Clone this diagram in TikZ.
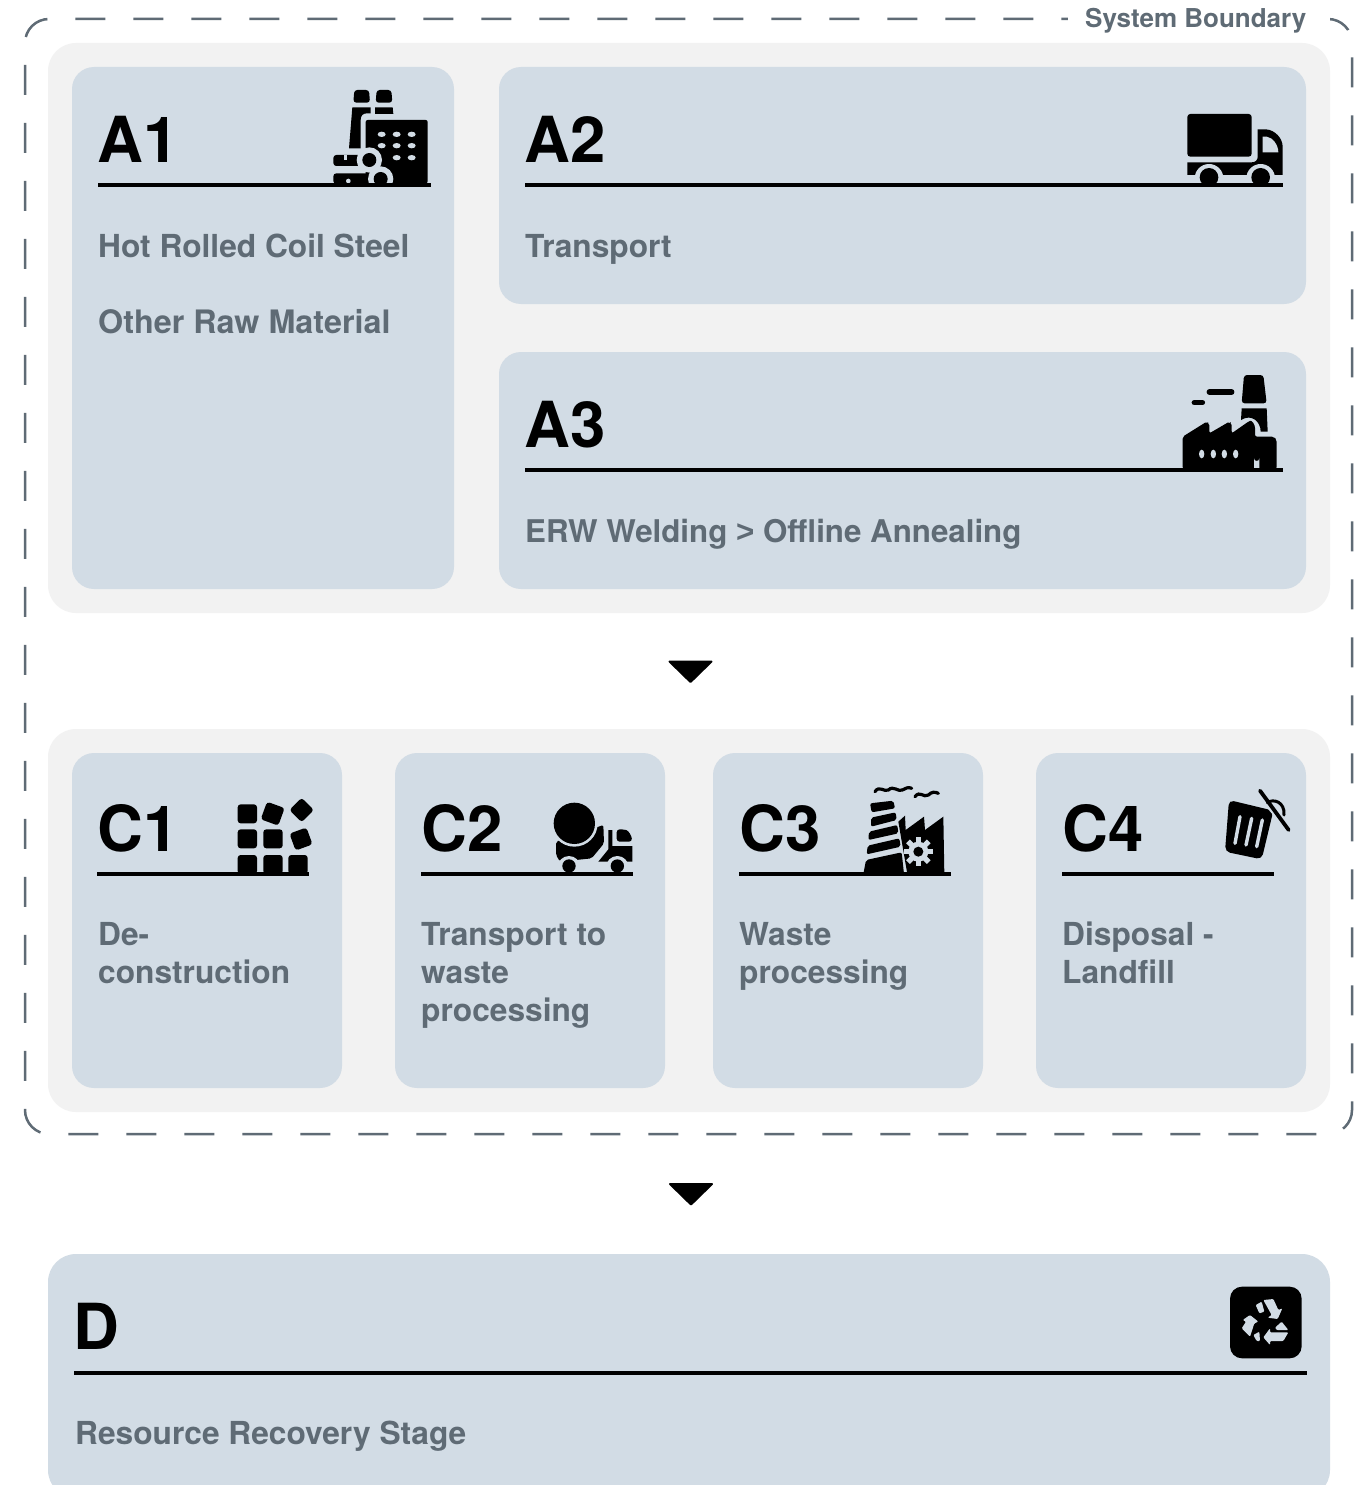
\documentclass[tikz,border=0pt]{standalone}
\usepackage{xcolor}
\usepackage{fontspec}
\setmainfont{TeX Gyre Heros}
\newfontfamily\gtfont{Liberation Sans}
\definecolor{panel}{HTML}{D2DCE5}
\definecolor{outer}{HTML}{F2F2F2}
\definecolor{slate}{HTML}{5F6B75}
\usetikzlibrary{positioning}

\begin{document}
\begin{tikzpicture}[
    x=1pt, y=-1pt,
    group/.style={rectangle, fill=outer, rounded corners=28pt, inner sep=0pt, outer sep=0pt, anchor=north west},
    card/.style={rectangle, fill=panel, rounded corners=22pt, inner sep=0pt, outer sep=0pt, anchor=north west},
    title/.style={inner sep=0pt, anchor=base west, font=\fontsize{63.5}{64}\selectfont\bfseries},
    body/.style={inner sep=0pt, anchor=base west, align=left, text=slate, font=\fontsize{31.7}{38}\selectfont\bfseries},
    rule/.style={line width=3.5pt, black},
    flowtip/.style={fill=black, draw=black, line width=2pt, line join=round},
    icon/.style 2 args={shift={(#1,#2)}, scale=1/3},
    ink/.style={fill=black},
    gap/.style={fill=panel}
]
\clip (0,0) rectangle (1358,1485);
\fill[white] (0,0) rectangle (1358,1485);

\draw[slate, line width=2.5pt, rounded corners=24pt, dash pattern=on 30pt off 28pt]
    (1322,19) -- (1352,19) -- (1352,1134) -- (25,1134) -- (25,19) -- (1322,19);
\node[inner sep=0pt, fill=white, text=slate, anchor=base west, font=\fontsize{26}{30}\selectfont\bfseries] (boundary) at (1068,28) {\hspace*{17pt}System Boundary\hspace*{24pt}};

\node[group, minimum width=1282pt, minimum height=570pt] (upper) at (48,43) {};
\node[group, minimum width=1282pt, minimum height=383pt] (lower) at (48,729) {};

\node[card, minimum width=382pt, minimum height=522pt] (a1) at (72,67) {};
\node[card, minimum width=807pt, minimum height=237pt] (a2) at (499,67) {};
\node[card, minimum width=807pt, minimum height=237pt] (a3) at (499,352) {};
\node[card, minimum width=270pt, minimum height=335pt] (c1) at (72,753) {};
\node[card, minimum width=270pt, minimum height=335pt] (c2) at (395,753) {};
\node[card, minimum width=270pt, minimum height=335pt] (c3) at (713,753) {};
\node[card, minimum width=270pt, minimum height=335pt] (c4) at (1036,753) {};
\node[group, fill=panel, minimum width=1282pt, minimum height=244pt] (d) at (48,1254) {};

\node[title] (a1title) at (97,162) {A1};
\node[title] (a2title) at (524,162) {A2};
\node[title] (a3title) at (524,447) {A3};
\node[title] (c1title) at (97,851) {C1};
\node[title] (c2title) at (421,851) {C2};
\node[title] (c3title) at (739,851) {C3};
\node[title] (c4title) at (1062,851) {C4};
\node[title] (dtitle) at (73,1349) {D};

\node[body] (a1first) at (98,257) {Hot Rolled Coil Steel};
\node[body, font=\fontsize{32.3}{38}\selectfont\bfseries] (a1second) at (98,333) {Other Raw Material};
\node[body] (a2text) at (525,257) {Transport};
\node[body, font=\fontsize{31.3}{38}\selectfont\bfseries] (a3text) at (525,542) {ERW Welding {\gtfont >} Offline Annealing};
\node[body] (c1text) at (98,983) {De-\\construction};
\node[body] (c2text) at (421,1021) {Transport to\\waste\\processing};
\node[body] (c3text) at (739,983) {Waste\\processing};
\node[body] (c4text) at (1062,983) {Disposal -\\Landfill};
\node[body] (dtext) at (75,1444) {Resource Recovery Stage};

\fill[flowtip] (669.5,661.5) -- (711.5,661.5) -- (690.5,682) -- cycle;
\fill[flowtip] (670,1184) -- (712,1184) -- (691,1204.5) -- cycle;

\begin{scope}[icon={320}{80}]
    \fill[ink, rounded corners=3pt] (100,68) -- (103,30) -- (147,30) -- (150,68) -- cycle;
    \fill[ink, rounded corners=3pt] (167,68) -- (170,30) -- (214,30) -- (217,68) -- cycle;
    \fill[ink] (97,82) -- (152,82) -- (152,100) -- (140,100) .. controls (128,100) and (122,108) .. (122,120) -- (122,205) -- (87,205) -- cycle;
    \fill[ink] (165,82) -- (218,82) -- (220,102) -- (165,102) -- cycle;
    \fill[ink, rounded corners=2pt] (137,120) rectangle (323,310);
    \fill[ink, rounded corners=3pt] (40,225) rectangle (125,258);
    \fill[ink, rounded corners=3pt] (40,280) rectangle (165,312);
    \fill[gap] (148,240) circle (38);
    \fill[gap] (182,297) circle (38);
    \fill[ink] (148,240) circle (21);
    \fill[ink] (182,297) circle (21);
    \fill[gap] (72,225) rectangle (82,240);
    \fill[gap] (85,303) circle (7);
    \foreach \winy/\winx in {163/185, 163/230, 163/275, 197/185, 197/230, 197/275, 233/230, 233/275}
        \fill[gap] (\winx,\winy) ellipse (12 and 8);
\end{scope}

\begin{scope}[icon={1170}{100}]
    \fill[ink, rounded corners=3pt] (52,42) rectangle (245,170);
    \fill[ink] (52,187) -- (245,187) .. controls (257,187) and (263,180) .. (263,170) -- (263,88) -- (288,88) .. controls (315,90) and (338,115) .. (338,140) -- (338,228) -- (52,228) -- cycle;
    \fill[gap] (278,110) -- (290,110) .. controls (308,112) and (325,135) .. (325,157) -- (278,157) -- cycle;
    \fill[gap] (52,225) rectangle (338,240);
    \fill[gap] (117,235) circle (43);
    \fill[gap] (272,235) circle (43);
    \fill[ink] (117,232) circle (28);
    \fill[ink] (272,232) circle (28);
\end{scope}

\begin{scope}[icon={1170}{365}]
    \fill[ink, rounded corners=3pt] (215,115) -- (222,30) -- (280,30) -- (290,115) -- cycle;
    \fill[ink] (215,130) -- (290,130) -- (293,200) -- (272,200) .. controls (272,170) and (245,145) .. (213,165) -- cycle;
    \fill[ink, rounded corners=2pt] (38,312) -- (38,215) -- (110,170) -- (118,175) -- (118,205) -- (178,170) -- (185,175) -- (185,205) -- (235,170) .. controls (245,165) and (255,178) .. (255,195) -- (255,215) -- (312,215) -- (320,225) -- (320,312) -- cycle;
    \draw[black, line width=5.5pt, line cap=round] (118,81) -- (185,81);
    \draw[black, line width=5.5pt, line cap=round] (73,113) -- (97,113);
    \foreach \winx in {95, 130, 163, 197}
        \fill[gap] (\winx,267) ellipse (8 and 13);
    \fill[gap] (252,312) -- (252,280) arc (180:0:8) -- (268,312) -- cycle;
\end{scope}

\begin{scope}[icon={225}{785}]
    \foreach \boxx/\boxy in {38/58, 38/133, 115/133, 38/210, 115/210, 190/210}
        \fill[ink, rounded corners=3pt] (\boxx,\boxy) rectangle ++(58,57);
    \fill[ink, rounded corners=3pt, rotate around={-20:(143,86)}] (115,58) rectangle (171,114);
    \fill[ink, rounded corners=3pt, rotate around={45:(230,75)}] (204,49) rectangle (256,101);
    \fill[ink, rounded corners=3pt, rotate around={20:(228,162)}] (201,135) rectangle (255,189);
\end{scope}

\begin{scope}[icon={540}{790}]
    \fill[ink, rounded corners=2pt] (48,155) -- (190,105) -- (192,160) -- (155,205) -- (60,215) -- (48,195) -- cycle;
    \fill[gap] (103,100) circle (70);
    \fill[ink] (103,100) circle (62);
    \fill[ink] (205,120) -- (217,120) -- (217,168) -- (277,168) -- (277,215) -- (175,215) -- (205,178) -- cycle;
    \fill[ink, rounded corners=3pt] (230,118) -- (250,118) .. controls (266,122) and (275,138) .. (276,155) -- (230,155) -- cycle;
    \fill[gap] (87,232) circle (34);
    \fill[gap] (232,232) circle (34);
    \fill[ink] (87,228) circle (20);
    \fill[ink] (232,228) circle (20);
\end{scope}

\begin{scope}[icon={855}{775}]
    \draw[black, line width=3.2pt, line cap=round] (60,50) .. controls (72,30) and (88,52) .. (100,45) .. controls (115,30) and (130,52) .. (142,45) .. controls (150,40) and (160,35) .. (170,40);
    \draw[black, line width=3.2pt, line cap=round] (180,65) .. controls (195,45) and (205,70) .. (220,60) .. controls (230,50) and (240,50) .. (250,55);
    \fill[ink, rounded corners=2pt] (45,85) -- (115,77) -- (120,100) -- (50,112) -- cycle;
    \fill[ink, rounded corners=2pt] (48,128) -- (122,112) -- (125,135) -- (48,155) -- cycle;
    \fill[ink, rounded corners=2pt] (42,170) -- (127,150) -- (130,175) -- (40,195) -- cycle;
    \fill[ink, rounded corners=2pt] (38,212) -- (133,190) -- (137,215) -- (35,238) -- cycle;
    \fill[ink, rounded corners=2pt] (33,255) -- (140,232) -- (147,297) -- (25,297) -- cycle;
    \fill[ink] (130,140) -- (150,122) -- (152,165) -- (207,125) -- (210,165) -- (265,125) -- (268,297) -- (157,297) -- cycle;
    \fill[gap] (190,230) circle (30);
    \foreach \toothang in {0,45,...,315}
        \fill[gap, rotate around={\toothang:(190,230)}] (182,186) rectangle (198,205);
    \fill[ink] (190,230) circle (15);
\end{scope}

\begin{scope}[icon={1210}{780}]
    \fill[ink, rounded corners=5pt] (57,60) -- (190,92) -- (155,238) -- (45,215) -- cycle;
    \foreach \slotx/\sloty/\slotxb/\slotyb in {90/110/75/190, 125/115/108/195, 157/120/140/200}
        \draw[panel, line width=3.4pt, line cap=round] (\slotx,\sloty) -- (\slotxb,\slotyb);
    \draw[panel, line width=6pt] (135,25) -- (250,165);
    \draw[black, line width=3.8pt, line cap=round] (150,32) -- (236,150);
    \draw[black, line width=3pt, line cap=round] (172,68) .. controls (190,55) and (225,65) .. (222,105);
\end{scope}

\begin{scope}[icon={1220}{1280}]
    \fill[ink, rounded corners=12pt] (30,20) rectangle (245,235);
    \fill[gap, rounded corners=1pt] (130,60) -- (160,57) -- (175,90) -- (187,85) -- (173,117) -- (143,113) -- (155,105) -- cycle;
    \fill[gap, rounded corners=1pt] (107,75) -- (125,65) -- (133,95) -- (118,100) -- cycle;
    \fill[gap, rounded corners=1pt] (90,105) -- (115,125) -- (103,130) -- (90,170) -- (65,145) -- (78,125) -- (68,120) -- cycle;
    \fill[gap, rounded corners=1pt] (100,165) -- (118,155) -- (120,183) -- (110,183) -- cycle;
    \fill[gap, rounded corners=1pt] (205,157) -- (150,157) -- (150,145) -- (130,172) -- (150,195) -- (150,183) -- (190,183) -- cycle;
    \fill[gap, rounded corners=1pt] (165,143) -- (185,125) -- (205,150) -- (170,150) -- cycle;
\end{scope}

\draw[rule] (98,185) -- (431,185);
\draw[rule] (525,185) -- (1283,185);
\draw[rule] (525,470) -- (1283,470);
\draw[rule] (97,874) -- (309,874);
\draw[rule] (421,874) -- (633,874);
\draw[rule] (739,874) -- (951,874);
\draw[rule] (1062,874) -- (1274,874);
\draw[rule] (74,1373) -- (1307,1373);

\end{tikzpicture}
\end{document}
